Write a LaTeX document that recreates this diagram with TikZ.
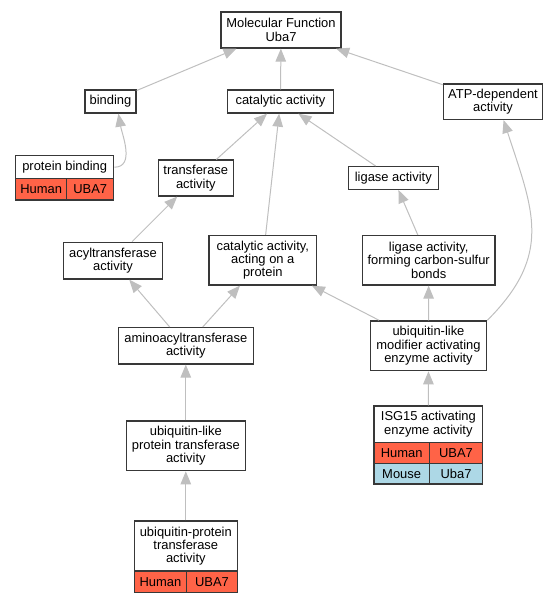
\documentclass[tikz,border=0pt]{standalone}
\usepackage{fontspec}
\setmainfont{Liberation Sans}
\usetikzlibrary{arrows.meta}
\definecolor{humanred}{HTML}{FF6347}
\definecolor{mouseblue}{HTML}{ADD8E6}

\begin{document}
\begin{tikzpicture}[
  x=0.75pt,y=-0.75pt,
  >={Triangle[length=9.75pt,width=7.9pt]},
  term/.style={draw=black!78,line width=1pt,fill=white,align=center,
    inner sep=0pt,font=\fontsize{9.7}{10}\selectfont},
  human/.style={term,fill=humanred},
  mouse/.style={term,fill=mouseblue},
  every edge/.style={draw=gray!50,line width=0.75pt,->}
]
\useasboundingbox (0,0) rectangle (559,603);

\node[term,minimum width=90pt,minimum height=27pt] (mf) at (281,30)
 {Molecular Function\\Uba7};
\node[term,minimum width=38.25pt,minimum height=17.25pt] (bind) at (110.5,101.5)
 {binding};
\node[term,minimum width=79.2pt,minimum height=17.25pt] (cat) at (280.5,101.5)
 {catalytic activity};
\node[term,minimum width=74.5pt,minimum height=26.5pt] (atp) at (493,101.7)
 {ATP-dependent\\activity};

\node[term,minimum width=73.5pt,minimum height=17.25pt] (pb) at (64.7,167.2)
 {protein binding};
\node[human,minimum width=38.25pt,minimum height=16pt] (pbh) at (41.2,189.35)
 {Human};
\node[human,minimum width=35.25pt,minimum height=16pt] (pbg) at (90.2,189.35)
 {UBA7};

\node[term,minimum width=56.25pt,minimum height=26.8pt] (trans) at (195.8,178)
 {transferase\\activity};
\node[term,minimum width=67.5pt,minimum height=17pt] (lig) at (393.3,178)
 {ligase activity};

\node[term,minimum width=74.5pt,minimum height=27.5pt] (acyl) at (113,260.7)
 {acyltransferase\\activity};
\node[term,minimum width=80.8pt,minimum height=37pt] (act) at (262.8,260.3)
 {catalytic activity,\\acting on a\\protein};
\node[term,minimum width=99.5pt,minimum height=37pt] (ligf) at (428.7,260.3)
 {ligase activity,\\forming carbon-sulfur\\bonds};

\node[term,minimum width=101.25pt,minimum height=27.2pt] (amino) at (185.8,345.8)
 {aminoacyltransferase\\activity};
\node[term,minimum width=87.3pt,minimum height=37.3pt] (mod) at (428.5,345.8)
 {ubiquitin-like\\modifier activating\\enzyme activity};

\node[term,minimum width=89.25pt,minimum height=37.3pt] (ulp) at (185.8,445.8)
 {ubiquitin-like\\protein transferase\\activity};

\node[term,minimum width=81.5pt,minimum height=27.2pt] (isg) at (428.35,424.15)
 {ISG15 activating\\enzyme activity};
\node[human,minimum width=41.5pt,minimum height=15.75pt] (isgh) at (401.65,452.8)
 {Human};
\node[human,minimum width=40pt,minimum height=15.75pt] (isgg) at (456,452.8)
 {UBA7};
\node[mouse,minimum width=41.5pt,minimum height=15.5pt] (isgm) at (401.65,473.65)
 {Mouse};
\node[mouse,minimum width=40pt,minimum height=15.5pt] (isgmg) at (456,473.65)
 {Uba7};

\node[term,minimum width=77.25pt,minimum height=37.5pt] (upt) at (185.8,546)
 {ubiquitin-protein\\transferase\\activity};
\node[human,minimum width=39.3pt,minimum height=16pt] (upth) at (160.5,581.65)
 {Human};
\node[human,minimum width=37.95pt,minimum height=16pt] (uptg) at (212,581.65)
 {UBA7};

\path (bind) edge (mf)
      (cat) edge (mf)
      (atp) edge (mf)
      (pb.east) edge[out=0,in=-80] (bind.-57)
      (trans) edge (cat)
      (lig) edge (cat)
      (act) edge (cat)
      (acyl) edge (trans)
      (ligf) edge (lig)
      (amino) edge (acyl)
      (amino) edge (act)
      (mod) edge (act)
      (mod) edge (ligf)
      (mod.north east) edge[out=45,in=-72,looseness=1.2] (atp.-60)
      (ulp) edge (amino)
      (upt) edge (ulp)
      (isg) edge (mod);
\end{tikzpicture}
\end{document}
